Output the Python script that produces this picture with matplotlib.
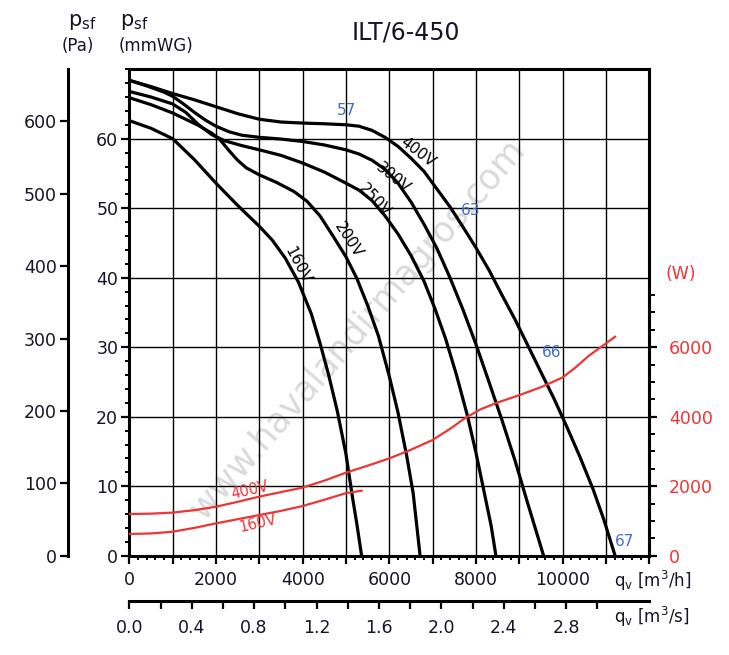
import numpy as np
import matplotlib.pyplot as plt
from matplotlib.ticker import FuncFormatter

# fan curves: airflow [m3/h] vs static pressure [mmWG]
q_400 = [0, 500, 1000, 1500, 2000, 2500, 3000, 3500, 4000, 4500, 5000, 5300, 5600,
         5900, 6200, 6500, 6800, 7000, 7200, 7400, 7700, 8000, 8300, 8600, 8900,
         9200, 9500, 9800, 10100, 10400, 10700, 10950, 11210]
p_400 = [68.4, 67.5, 66.5, 65.6, 64.6, 63.6, 62.8, 62.4, 62.25, 62.15, 62.0, 61.8, 61.2,
         60.2, 58.9, 57.2, 55.3, 53.6, 51.9, 50.2, 47.3, 44.3, 41.1, 37.5, 34.0,
         30.2, 26.4, 22.6, 18.5, 14.2, 9.6, 5.2, 0]
q_300 = [0, 400, 800, 1000, 1250, 1500, 1750, 2000, 2300, 2600, 3000, 3500, 4000,
         4500, 5000, 5300, 5600, 5900, 6200, 6500, 6800, 7100, 7400, 7700, 8000,
         8300, 8600, 8900, 9200, 9400, 9560]
p_300 = [68.4, 67.6, 66.7, 66.1, 65.0, 63.8, 62.7, 61.8, 61.0, 60.5, 60.2, 59.95, 59.6,
         59.1, 58.4, 57.8, 56.9, 55.6, 53.6, 50.9, 47.7, 44.2, 40.0, 35.4, 30.4,
         25.0, 19.5, 13.7, 7.4, 3.3, 0]
q_250 = [0, 500, 1000, 1300, 1600, 1900, 2200, 2600, 3000, 3500, 4000, 4500, 5000,
         5300, 5600, 5900, 6200, 6500, 6800, 7050, 7300, 7550, 7800, 8000, 8200,
         8350, 8460]
p_250 = [66.8, 66.0, 65.0, 63.8, 62.0, 60.6, 59.7, 59.0, 58.4, 57.6, 56.5, 55.2, 53.6,
         52.6, 51.1, 48.9, 46.3, 43.2, 39.5, 35.6, 31.2, 26.0, 20.2, 14.8, 8.8,
         4.3, 0]
q_200 = [0, 500, 1000, 1300, 1600, 1900, 2100, 2300, 2500, 2700, 3000, 3400, 3800,
         4100, 4400, 4700, 5000, 5250, 5500, 5750, 6000, 6200, 6400, 6550, 6710]
p_200 = [65.9, 64.9, 63.7, 62.8, 61.9, 60.8, 59.8, 58.3, 56.9, 55.8, 54.8, 53.7, 52.4,
         51.0, 48.9, 46.0, 43.0, 39.9, 36.0, 31.6, 25.8, 20.6, 14.4, 9.0, 0]
q_160 = [0, 500, 1000, 1500, 2000, 2500, 3000, 3300, 3600, 3900, 4200, 4400, 4600,
         4800, 5000, 5150, 5250, 5360]
p_160 = [62.6, 61.5, 60.0, 57.0, 53.6, 50.4, 47.4, 45.4, 42.8, 39.4, 34.8, 30.6, 26.0,
         20.8, 14.6, 8.4, 4.6, 0]

# absorbed power [W]
qw_400 = [0, 500, 1000, 1500, 2000, 2500, 3000, 3500, 4000, 4500, 5000, 5500, 6000,
          6500, 7000, 7400, 7750, 8100, 8480, 9000, 9500, 10000, 10300, 10600,
          10900, 11210]
w_400 = [1200, 1210, 1240, 1310, 1410, 1550, 1700, 1830, 1960, 2160, 2390, 2590, 2800,
         3050, 3330, 3650, 3960, 4210, 4400, 4620, 4850, 5130, 5420, 5750,
         6020, 6300]
qw_160 = [0, 500, 1000, 1500, 2000, 2500, 3000, 3500, 4000, 4500, 5000, 5360]
w_160 = [625, 640, 690, 800, 930, 1050, 1170, 1290, 1430, 1610, 1800, 1870]

curves = [(q_400, p_400), (q_300, p_300), (q_250, p_250), (q_200, p_200), (q_160, p_160)]

RED = '#ee3535'
BLUE = '#3d6fc6'
INK = '#15152a'
YTOP = 70.1

fig = plt.figure(figsize=(7.29, 6.55), dpi=100)
ax = fig.add_axes([0.1774, 0.1516, 0.7133, 0.7438])

for q, p in curves:
    ax.plot(q, p, color='black', lw=2.3, solid_joinstyle='round', zorder=3)

ax.set_xlim(0, 12000)
ax.set_ylim(0, YTOP)
ax.set_xticks(np.arange(0, 12001, 1000))
ax.set_xticks(np.arange(0, 12001, 200), minor=True)
ax.xaxis.set_major_formatter(FuncFormatter(lambda v, _: f'{v:.0f}' if v % 2000 == 0 and v < 12000 else ''))
ax.set_yticks(np.arange(0, 61, 10))
ax.set_yticks(np.arange(0, 71, 2), minor=True)
ax.grid(True, which='major', color='black', lw=1.0, zorder=1)
for s in ax.spines.values():
    s.set_linewidth(2.2)
ax.tick_params(which='major', direction='out', length=6, width=1.6, labelsize=12.5,
               colors='black', labelcolor=INK)
ax.tick_params(which='minor', direction='out', length=3, width=1.4, colors='black')
ax.tick_params(axis='y', pad=2)
ax.tick_params(axis='x', pad=5)

# Pa scale on the far left
axpa = ax.secondary_yaxis(-0.118, functions=(lambda y: y * 9.6, lambda p: p / 9.6))
axpa.set_yticks(np.arange(0, 601, 100))
axpa.spines['left'].set_linewidth(2.2)
axpa.tick_params(direction='out', length=6, width=1.6, labelsize=12.5, pad=2, labelcolor=INK)

# m3/s scale under the m3/h scale
axs = ax.secondary_xaxis(-0.093, functions=(lambda q: q / 3600, lambda s: s * 3600))
axs.set_xticks(np.arange(0, 2.81, 0.4))
axs.set_xticks(np.arange(0, 3.01, 0.2), minor=True)
axs.xaxis.set_major_formatter(FuncFormatter(lambda v, _: f'{v:.1f}'))
axs.spines['bottom'].set_linewidth(2.2)
axs.tick_params(which='both', direction='out', length=6, width=1.6, labelsize=12.5,
                pad=7, labelcolor=INK)

# power on the right
axw = ax.twinx()
axw.set_ylim(0, YTOP * 200)
axw.plot(qw_400, w_400, color=RED, lw=1.6, zorder=4)
axw.plot(qw_160, w_160, color=RED, lw=1.6, zorder=4)
axw.set_yticks([0, 2000, 4000, 6000])
axw.set_yticks(np.arange(0, 7501, 500), minor=True)
for k in ['left', 'top', 'bottom']:
    axw.spines[k].set_visible(False)
axw.spines['right'].set_linewidth(2.2)
axw.tick_params(which='major', direction='out', length=6, width=1.6, labelsize=12.5,
                pad=8, labelcolor=RED)
axw.tick_params(which='minor', direction='out', length=4, width=1.4)

# curve labels
for txt, x, y, r in [('400V', 6663, 58.1, -37), ('300V', 6086, 54.3, -39),
                     ('250V', 5648, 51.2, -47), ('200V', 5048, 45.4, -57),
                     ('160V', 3871, 41.8, -62)]:
    ax.text(x, y, txt, rotation=r, rotation_mode='anchor', ha='center', va='center',
            fontsize=11, color='black', zorder=5)
for txt, x, y in [('57', 5001, 64.1), ('63', 7870, 49.6), ('66', 9750, 29.3), ('67', 11418, 2.0)]:
    ax.text(x, y, txt, ha='center', va='center', fontsize=11, color=BLUE, zorder=5)
for txt, x, y in [('400V', 2786, 9.45), ('160V', 2970, 4.7)]:
    ax.text(x, y, txt, rotation=13, rotation_mode='anchor', ha='center', va='center',
            fontsize=10.5, color=RED, zorder=5)

ax.text(0.44, 0.465, 'www.havalandirmagros.com', transform=ax.transAxes, rotation=49,
        ha='center', va='center', fontsize=25, color='#dadada', zorder=0.5)

# headings
fig.text(406 / 729, 1 - 33 / 655, 'ILT/6-450', ha='center', va='center', fontsize=17, color=INK)
fig.text(82 / 729, 1 - 22 / 655, r'p$_\mathregular{sf}$', ha='center', va='center', fontsize=15, color=INK)
fig.text(78 / 729, 1 - 46 / 655, '(Pa)', ha='center', va='center', fontsize=12, color=INK)
fig.text(120 / 729, 1 - 22 / 655, r'p$_\mathregular{sf}$', ha='left', va='center', fontsize=15, color=INK)
fig.text(119 / 729, 1 - 46 / 655, '(mmWG)', ha='left', va='center', fontsize=12, color=INK)
fig.text(681 / 729, 1 - 274 / 655, '(W)', ha='center', va='center', fontsize=12.5, color=RED)
fig.text(614 / 729, 1 - 581 / 655, r'q$_\mathregular{v}$ [m$^\mathregular{3}$/h]', ha='left',
         va='center', fontsize=12, color=INK)
fig.text(614 / 729, 1 - 617 / 655, r'q$_\mathregular{v}$ [m$^\mathregular{3}$/s]', ha='left',
         va='center', fontsize=12, color=INK)

fig.savefig('out.png', dpi=100, facecolor='white')
